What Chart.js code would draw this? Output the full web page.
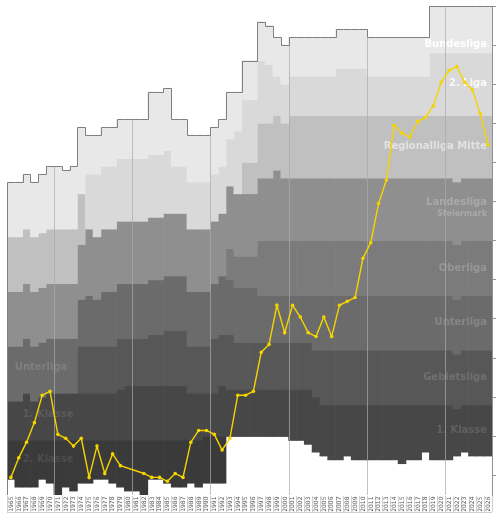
<!DOCTYPE html>
<html><head><meta charset="utf-8">
<script src="https://cdn.jsdelivr.net/npm/chart.js@4"></script>
<style>html,body{margin:0;padding:0;background:#fff}#c{display:block}</style>
</head><body>
<canvas id="c" width="500" height="515"></canvas>
<script>
const years = ['1965','1966','1967','1968','1969','1970','1971','1972','1973','1974','1975','1976','1977','1978','1979','1980','1981','1982','1983','1984','1985','1986','1987','1988','1989','1990','1991','1992','1993','1994','1995','1996','1997','1998','1999','2000','2001','2002','2003','2004','2005','2006','2007','2008','2009','2010','2011','2012','2013','2014','2015','2016','2017','2018','2019','2020','2021','2022','2023','2024','2025','2026'];

// overall rank of the top of the pyramid (empty space above it)
const topGap = [45,45,43,45,43,41,41,42,41,31,33,33,31,31,29,29,29,29,22,22,21,29,29,33,33,33,31,29,22,22,14,14,4,5,8,10,8,8,8,8,8,8,6,6,6,6,8,8,8,8,8,8,8,8,0,0,0,0,0,0,0,0];
// number of teams per league and season
const bundesliga   = [14,14,14,14,15,16,16,15,16,17,10,10,10,10,10,10,10,10,16,16,16,12,12,12,12,12,12,12,12,10,10,10,10,10,10,10,10,10,10,10,10,10,10,10,10,10,10,10,10,10,10,10,10,10,12,12,12,12,12,12,12,12];
const zweiteLiga   = [0,0,0,0,0,0,0,0,0,0,14,16,16,16,16,16,16,16,16,16,16,12,12,12,12,12,12,12,12,16,16,16,16,15,10,10,10,10,10,10,10,10,12,12,12,12,10,10,10,10,10,10,10,10,16,16,16,16,16,16,16,16];
const regionalliga = [14,14,14,14,14,14,14,14,14,13,0,0,0,0,0,0,0,0,0,0,0,0,0,0,0,0,0,0,0,0,8,8,14,14,14,14,16,16,16,16,16,16,16,16,16,16,16,16,16,16,16,16,16,16,16,16,16,17,16,16,16,16];
const landesliga   = [14,14,14,14,14,14,14,14,14,14,17,16,16,16,16,16,16,16,16,16,16,16,16,16,16,16,16,16,16,16,16,16,16,16,18,16,16,16,16,16,16,16,16,16,16,16,16,16,16,16,16,16,16,16,16,16,16,16,16,16,16,16];
const oberliga     = [0,0,0,0,0,0,0,0,0,0,0,0,0,0,0,0,0,0,0,0,0,0,0,0,0,0,0,0,8,8,8,8,14,14,14,14,14,14,14,14,14,14,14,14,14,14,14,14,14,14,14,14,14,14,14,14,14,14,14,14,14,14];
const unterliga    = [14,14,14,14,14,14,14,14,14,12,13,12,14,14,14,14,14,14,14,14,14,14,14,14,14,14,14,15,14,14,14,14,12,12,12,12,12,12,12,14,14,14,14,14,14,14,14,14,14,14,14,14,14,14,14,14,14,14,14,14,14,14];
const gebietsliga  = [0,0,0,0,0,0,0,0,0,12,12,12,12,12,13,12,12,12,13,13,14,14,14,12,12,12,14,13,14,12,12,12,12,12,12,12,12,12,12,12,14,14,14,14,14,14,14,14,14,14,14,14,14,14,14,14,14,14,14,14,14,14];
const ersteKlasse  = [10,10,12,10,11,12,12,12,12,12,12,12,12,12,13,14,14,14,14,14,14,14,14,12,12,11,11,13,12,12,12,12,12,12,12,12,13,13,14,14,13,14,14,13,14,14,14,14,14,14,15,14,14,12,14,14,14,12,12,13,13,13];
const zweiteKlasse = [10,12,12,12,10,11,14,12,13,11,11,10,10,11,12,13,13,14,10,10,11,12,12,11,12,12,12,12,0,0,0,0,0,0,0,0,0,0,0,0,0,0,0,0,0,0,0,0,0,0,0,0,0,0,0,0,0,0,0,0,0,0];

// club's overall rank in the pyramid (null = no data)
const clubRank = [120.5,115.5,111.5,106.5,99.5,98.5,109.5,110.5,112.5,110.5,120.5,112.5,119.5,114.5,117.5,null,null,119.5,120.5,120.5,121.5,119.5,120.5,111.5,108.5,108.5,109.5,113.5,110.5,99.5,99.5,98.5,88.5,86.5,76.5,83.5,76.5,79.5,83.5,84.5,79.5,84.5,76.5,75.5,74.5,64.5,60.5,50.5,44.5,30.5,32.5,33.5,29.5,28.5,25.5,19.5,16.5,15.5,19.5,21.5,27.5,35.5];

const layerNames  = ['Bundesliga','2. Liga','Regionalliga Mitte','Landesliga Steiermark','Oberliga','Unterliga','Gebietsliga','1. Klasse','2. Klasse'];
const layerData   = [bundesliga, zweiteLiga, regionalliga, landesliga, oberliga, unterliga, gebietsliga, ersteKlasse, zweiteKlasse];
const layerColors = ['#e8e8e8','#d9d9d9','#c0c0c0','#8f8f8f','#7b7b7b','#6b6b6b','#575757','#474747','#3a3a3a'];

const rightLabels      = ['Bundesliga','2. Liga','Regionalliga Mitte','Landesliga','Steiermark','Oberliga','Unterliga','Gebietsliga','1. Klasse'];
const rightLabelRanks  = [9.8, 19.8, 36, 50.3, 53.1, 67, 81, 95, 108.5];
const rightLabelSizes  = [10,10,10,10,8,10,10,10,10];
const rightLabelColors = ['#ffffff','#fafafa','#e2e2e2','#a9a9a9','#a9a9a9','#979797','#868686','#707070','#606060'];
const leftLabels       = ['Unterliga','1. Klasse','2. Klasse'];
const leftLabelRanks   = [92.5, 104.5, 116];
const leftLabelYears   = ['1966','1967','1967'];
const leftLabelColors  = ['#7f7f7f','#5b5b5b','#4d4d4d'];

const overlay = {
  id: 'overlay',
  beforeDatasetDraw(chart, args) {
    if (args.meta.type !== 'line') return;
    const ctx = chart.ctx, xs = chart.scales.x, ys = chart.scales.y;
    const w = xs.getPixelForValue(1) - xs.getPixelForValue(0);
    const edge = i => xs.getPixelForValue(i) - w / 2;
    ctx.save();
    ctx.textBaseline = 'middle';
    ctx.textAlign = 'right';
    rightLabels.forEach((t, k) => {
      ctx.font = 'bold ' + rightLabelSizes[k] + 'px "DejaVu Sans"';
      ctx.fillStyle = rightLabelColors[k];
      ctx.fillText(t, xs.right - 5, ys.getPixelForValue(rightLabelRanks[k]));
    });
    ctx.textAlign = 'left';
    leftLabels.forEach((t, k) => {
      ctx.font = 'bold 10px "DejaVu Sans"';
      ctx.fillStyle = leftLabelColors[k];
      ctx.fillText(t, edge(years.indexOf(leftLabelYears[k])), ys.getPixelForValue(leftLabelRanks[k]));
    });
    ctx.strokeStyle = 'rgba(170,170,170,0.7)';
    ctx.lineWidth = 1;
    years.forEach((y, i) => {
      if (i > 0 && y.endsWith('1')) {
        const x = Math.round(edge(i)) + 0.5;
        ctx.beginPath();
        ctx.moveTo(x, ys.getPixelForValue(Math.min(topGap[i - 1], topGap[i])));
        ctx.lineTo(x, ys.bottom);
        ctx.stroke();
      }
    });
    ctx.strokeStyle = '#7f7f7f';
    ctx.beginPath();
    const py = v => Math.round(ys.getPixelForValue(v)) + 0.5;
    const px = v => Math.round(v) + 0.5;
    ctx.moveTo(px(edge(0)), ys.bottom);
    ctx.lineTo(px(edge(0)), py(topGap[0]));
    for (let i = 0; i < years.length; i++) {
      ctx.lineTo(px(edge(i + 1)), py(topGap[i]));
      if (i + 1 < years.length) ctx.lineTo(px(edge(i + 1)), py(topGap[i + 1]));
    }
    ctx.stroke();
    ctx.restore();
  },
  afterDraw(chart) {
    const ctx = chart.ctx, xs = chart.scales.x, ys = chart.scales.y;
    const w = xs.getPixelForValue(1) - xs.getPixelForValue(0);
    ctx.save();
    // year labels in small boxes
    ctx.strokeStyle = '#d0d0d0';
    ctx.lineWidth = 1;
    ctx.beginPath();
    for (let i = 0; i <= years.length; i++) {
      const x = Math.round(xs.getPixelForValue(i) - w / 2) + 0.5;
      ctx.moveTo(x, ys.bottom + 1);
      ctx.lineTo(x, ys.bottom + 17);
    }
    ctx.moveTo(xs.left, ys.bottom + 17.5);
    ctx.lineTo(xs.right, ys.bottom + 17.5);
    ctx.stroke();
    ctx.fillStyle = '#555';
    ctx.font = '6px "DejaVu Sans"';
    ctx.textAlign = 'right';
    ctx.textBaseline = 'middle';
    years.forEach((y, i) => {
      ctx.save();
      ctx.translate(xs.getPixelForValue(i) + 0.3, ys.bottom + 1.5);
      ctx.rotate(-Math.PI / 2);
      ctx.fillText(y, 0, 0);
      ctx.restore();
    });
    ctx.restore();
  }
};

const datasets = [{
  type: 'bar', label: 'gap', data: topGap, backgroundColor: 'rgba(0,0,0,0)',
  stack: 'p', order: 1, barPercentage: 1, categoryPercentage: 1, borderWidth: 0
}];
layerNames.forEach((n, k) => datasets.push({
  type: 'bar', label: n, data: layerData[k], backgroundColor: layerColors[k],
  stack: 'p', order: 1, barPercentage: 1, categoryPercentage: 1, borderWidth: 0
}));
datasets.push({
  type: 'line', label: 'Platz', data: clubRank, stack: 'line', order: 0,
  borderColor: '#f5d400', borderWidth: 1.4, pointRadius: 1.8, pointBackgroundColor: '#f5d400',
  pointBorderWidth: 0, spanGaps: true, tension: 0,
  segment: {
    borderDash: c => (c.p1DataIndex - c.p0DataIndex > 1) ? [3, 2] : undefined,
    borderColor: c => (c.p1DataIndex - c.p0DataIndex > 1) ? 'rgba(185,160,20,0.85)' : undefined
  }
});

new Chart(document.getElementById('c'), {
  data: { labels: years, datasets },
  options: {
    responsive: false, animation: false, events: [],
    layout: { padding: { left: 7, top: 6, right: 0, bottom: 0 } },
    plugins: { legend: { display: false }, tooltip: { enabled: false } },
    scales: {
      x: {
        stacked: true, offset: true,
        grid: { display: false },
        border: { display: false },
        ticks: { display: false },
        afterFit: s => { s.height = 20; }
      },
      y: {
        stacked: true, position: 'right', reverse: true, min: 0, max: 125,
        grid: { drawOnChartArea: false, drawTicks: true, tickLength: 4, color: '#999' },
        border: { display: true, color: '#919191' },
        ticks: { display: false, stepSize: 10 },
        afterBuildTicks: s => { s.ticks = s.ticks.filter(t => t.value % 10 === 0); },
        afterFit: s => { s.width = 8; }
      }
    }
  },
  plugins: [overlay]
});
</script>
</body></html>
